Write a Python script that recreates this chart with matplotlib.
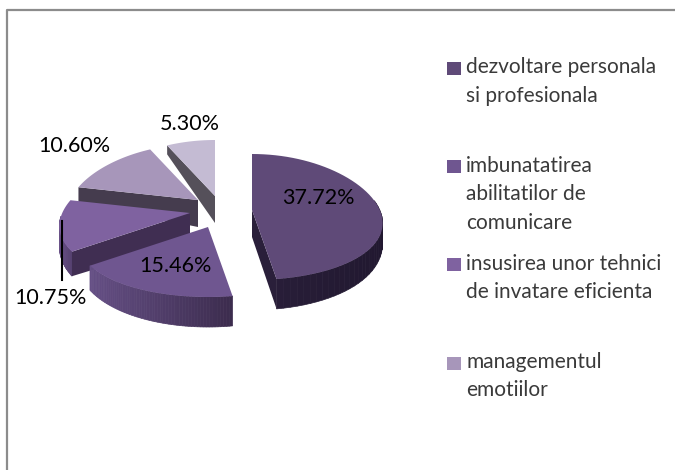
import matplotlib
matplotlib.use("Agg")
import matplotlib.pyplot as plt
import numpy as np
from matplotlib.colors import to_rgb
from matplotlib.patches import Polygon, Rectangle

plt.rcParams["font.family"] = ["Lato", "DejaVu Sans"]

categories = [
    "dezvoltare personala\nsi profesionala",
    "imbunatatirea\nabilitatilor de\ncomunicare",
    "insusirea unor tehnici\nde invatare eficienta",
    "managementul\nemotiilor",
]
values = [37.72, 15.46, 10.75, 10.60, 5.30]
value_labels = ["37.72%", "15.46%", "10.75%", "10.60%", "5.30%"]

top_colors = ["#5f4a78", "#6f5690", "#7f62a0", "#a796ba", "#c4bbd3"]
cut_colors = ["#2a1f3a", "#402e52", "#402e52", "#453c4e", "#55505a"]
wall_left = ["#2a1f3a", "#654f85", "#6a5288", "#453c4e", "#55505a"]
wall_right = ["#211830", "#3c2c4e", "#55406f", "#453c4e", "#55505a"]

apex = [(252, 210), (208, 227), (190, 213), (198, 200), (215, 196)]
label_pos = [(318, 198), (175, 266), (50, 298), (74, 146), (190, 124)]
legend_y = [68, 166, 264, 363]
legend_text_y = [81.5, 194.5, 278, 376]
legend_colors = top_colors[:4]

RX, RY = 130, 63


def rim(cx, cy, t):
    # the back of the pie is a little narrower than the front
    return cx + RX * (1 - 0.1 * np.cos(t)) * np.sin(t), cy + 7 - RY * np.cos(t)


def depth(t):
    return 19 - 11 * np.cos(t)


def draw_slice(ax, i, t0, t1):
    cx, cy = apex[i]
    ts = np.linspace(t0, t1, 60)
    xs, ys = rim(cx, cy, ts)
    ds = depth(ts)

    # outer wall, only the part facing the viewer, shaded left to right
    c0 = np.array(to_rgb(wall_left[i]))
    c1 = np.array(to_rgb(wall_right[i]))
    for k in range(len(ts) - 1):
        if np.pi / 2 - 0.3 < ts[k] < 3 * np.pi / 2 + 0.05:
            s = (xs[k] - xs.min()) / (xs.max() - xs.min())
            color = c0 + (c1 - c0) * s
            quad = [(xs[k], ys[k]), (xs[k + 1], ys[k + 1]),
                    (xs[k + 1], ys[k + 1] + ds[k + 1]), (xs[k], ys[k] + ds[k])]
            ax.add_patch(Polygon(quad, fc=color, ec=color, lw=0.5))

    # cut faces towards the viewer
    for t, x, y, d in ((t0, xs[0], ys[0], ds[0]), (t1, xs[-1], ys[-1], ds[-1])):
        if (i == 0 and t == t1) or (i in (2, 3, 4) and t == t0):
            ax.add_patch(Polygon([(cx, cy), (x, y), (x, y + d), (cx, cy + 27)],
                                 fc=cut_colors[i], ec="none"))

    top = [(cx, cy)] + list(zip(xs, ys))
    ax.add_patch(Polygon(top, fc=top_colors[i], ec="none"))


fig = plt.figure(figsize=(6.75, 4.7), dpi=100)
ax = fig.add_axes([0, 0, 1, 1])
ax.set_xlim(0, 675)
ax.set_ylim(470, 0)
ax.axis("off")

# chart frame, the right side is cut off in the picture
ax.plot([7, 7, 675], [470, 10, 10], color="#8c8c8c", lw=1.6)

edges = np.cumsum([0] + values) / sum(values) * 2 * np.pi
for i in [4, 3, 2, 0, 1]:
    draw_slice(ax, i, edges[i], edges[i + 1])

ax.plot([62, 62], [221, 280], color="black", lw=1.5)

for (x, y), lab in zip(label_pos, value_labels):
    ax.text(x, y, lab, fontsize=15.5, ha="center", va="center", color="#000000")

for y, ty, c, name in zip(legend_y, legend_text_y, legend_colors, categories):
    ax.add_patch(Rectangle((447, y - 6.5), 14, 13, fc=c, ec="none"))
    ax.text(466, ty, name, fontsize=15, ha="left", va="center",
            color="#3a3a3a", linespacing=1.52)

fig.savefig("out.png", dpi=100)
plt.close(fig)
